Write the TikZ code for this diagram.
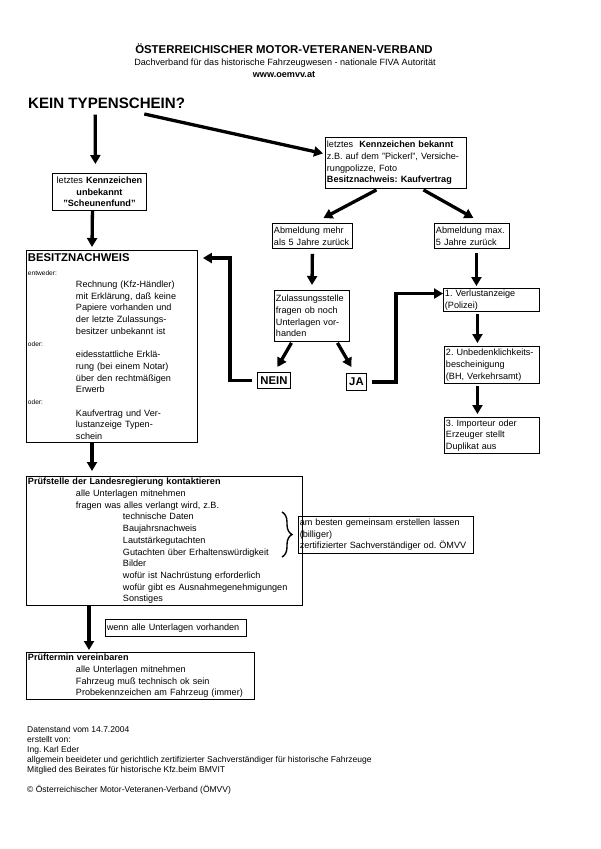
\documentclass[tikz,border=0pt]{standalone}
\usepackage{fontspec}
\setmainfont{Liberation Sans}
\usepackage{tikz}
\usetikzlibrary{positioning}
\usetikzlibrary{arrows.meta}
\usetikzlibrary{decorations.pathreplacing}
\frenchspacing
\newcommand{\bodyfont}{\fontsize{9.1}{11.7}\selectfont}
\newcommand{\bigbold}{\fontsize{11.3}{13}\selectfont\bfseries}
\newcommand{\smallfont}{\fontsize{6.6}{8}\selectfont}
\newcommand{\indA}{\hspace*{48pt}}
\newcommand{\indB}{\hspace*{95pt}}
\tikzset {
  x=1pt, y=-1pt,
  % text boxes
  box/.style = {draw, line width=0.9pt, anchor=north west, align=left,
    inner xsep=1.5pt, inner ysep=1.5pt, font=\bodyfont},
  % NEIN / JA
  answer/.style = {box, align=center, inner sep=1pt, font=\bigbold},
  % thin side notes
  note/.style = {box, line width=0.6pt},
  % fat arrows
  arr/.style = {-{Triangle[length=9pt,width=10pt]}, line width=3.3pt},
}

\begin{document}
\begin{tikzpicture}
  \useasboundingbox (0,0) rectangle (600,849);

  % header
  \node[font=\fontsize{11.4}{13}\selectfont\bfseries] (verband) at (284,49) {ÖSTERREICHISCHER MOTOR-VETERANEN-VERBAND};
  \node[font=\bodyfont] (dach) at (285,63) {Dachverband für das historische Fahrzeugwesen - nationale FIVA Autorität};
  \node[font=\bodyfont\bfseries] (web) at (284,75) {www.oemvv.at};

  \node[anchor=west, inner sep=0pt, font=\fontsize{15.1}{18}\selectfont\bfseries] (kein) at (28,103) {KEIN TYPENSCHEIN?};

  % left branch
  \node[box, align=center, text width=91pt, minimum height=37pt] (unk) at (52,173)
    {letztes \textbf{Kennzeichen}\\ \textbf{unbekannt}\\ \textbf{"Scheunenfund"}};

  \node[box, text width=168pt, minimum height=192pt] (besitz) at (26,250)
    {{\bigbold BESITZNACHWEIS}\\[3pt]
     {\smallfont entweder:}\\
     \indA Rechnung (Kfz-Händler)\\
     \indA mit Erklärung, daß keine\\
     \indA Papiere vorhanden und\\
     \indA der letzte Zulassungs-\\
     \indA besitzer unbekannt ist\\
     {\smallfont oder:}\\
     \indA eidesstattliche Erklä-\\
     \indA rung (bei einem Notar)\\
     \indA über den rechtmäßigen\\
     \indA Erwerb\\
     {\smallfont oder:}\\
     \indA Kaufvertrag und Ver-\\
     \indA lustanzeige Typen-\\
     \indA schein};

  % right branch
  \node[box, text width=138pt, minimum height=51pt] (ken) at (325,137)
    {letztes\ \ \textbf{Kennzeichen bekannt}\\ z.B. auf dem "Pickerl", Versiche-\\ rungpolizze, Foto\\ \textbf{Besitznachweis: Kaufvertrag}};

  \node[box, text width=77pt, minimum height=25pt] (abm1) at (272,223) {Abmeldung mehr\\ als 5 Jahre zurück};
  \node[box, text width=72pt, minimum height=25pt] (abm2) at (434,223) {Abmeldung max.\\ 5 Jahre zurück};

  \node[box, text width=72pt, minimum height=51pt] (zul) at (274,290)
    {Zulassungsstelle\\ fragen ob noch\\ Unterlagen vor-\\ handen};
  \node[answer, minimum width=33pt, minimum height=16pt] (nein) at (257,372) {NEIN};
  \node[answer, minimum width=20pt, minimum height=17pt] (ja) at (346,373) {JA};

  \node[box, text width=93pt, minimum height=23pt] (v1) at (443,288) {1. Verlustanzeige\\ (Polizei)};
  \node[box, text width=92pt, minimum height=37pt] (v2) at (444,346)
    {2. Unbedenklichkeits-\\ bescheinigung\\ (BH, Verkehrsamt)};
  \node[box, text width=92pt, minimum height=36pt] (v3) at (444,417)
    {3. Importeur oder\\ Erzeuger stellt\\ Duplikat aus};

  % lower part
  \node[box, text width=273pt, minimum height=129pt] (pruef) at (26,476)
    {\textbf{Prüfstelle der Landesregierung kontaktieren}\\
     \indA alle Unterlagen mitnehmen\\
     \indA fragen was alles verlangt wird, z.B.\\
     \indB technische Daten\\
     \indB Baujahrsnachweis\\
     \indB Lautstärkegutachten\\
     \indB Gutachten über Erhaltenswürdigkeit\\
     \indB Bilder\\
     \indB wofür ist Nachrüstung erforderlich\\
     \indB wofür gibt es Ausnahmegenehmigungen\\
     \indB Sonstiges};

  \node[note, text width=172pt, minimum height=37pt] (gemeinsam) at (298,516)
    {am besten gemeinsam erstellen lassen\\ (billiger)\\ zertifizierter Sachverständiger od. ÖMVV};
  \draw[decorate, decoration={brace, amplitude=10pt}, line width=1.4pt] (282,512) -- (282,557);

  \node[note, text width=138pt, minimum height=17pt] (wenn) at (105,619) {wenn alle Unterlagen vorhanden};

  \node[box, text width=225pt, minimum height=47pt] (termin) at (26,652)
    {\textbf{Prüftermin vereinbaren}\\
     \indA alle Unterlagen mitnehmen\\
     \indA Fahrzeug muß technisch ok sein\\
     \indA Probekennzeichen am Fahrzeug (immer)};

  % footer
  \node[anchor=north west, align=left, inner sep=0pt, font=\fontsize{8.5}{10}\selectfont] (stand) at (27,726)
    {Datenstand vom 14.7.2004\\
     erstellt von:\\
     Ing. Karl Eder\\
     allgemein beeideter und gerichtlich zertifizierter Sachverständiger für historische Fahrzeuge\\
     Mitglied des Beirates für historische Kfz.beim BMVIT\\[10pt]
     © Österreichischer Motor-Veteranen-Verband (ÖMVV)};

  % arrows
  \draw[arr, shorten >=9pt] ([shift={(-11.5,6)}]kein.south) -- ([xshift=-4pt]unk.north);
  \draw[arr] ([shift={(-41,11)}]kein.east) -- ([shift={(-2,-9.5)}]ken.west);
  \draw[arr] ([shift={(-19.5,1)}]ken.south) -- ([shift={(11,-5)}]abm1.north);
  \draw[arr] ([shift={(27.5,1)}]ken.south) -- ([shift={(1.5,-5)}]abm2.north);
  \draw[arr, shorten <=5pt, shorten >=5pt] (abm1.south) -- (zul.north);
  \draw[arr] ([shift={(-20.5,1)}]zul.south) -- ([shift={(3.5,-5)}]nein.north);
  \draw[arr] ([shift={(25.5,1)}]zul.south) -- ([shift={(-5,-6)}]ja.north);
  \draw[arr] ([xshift=5pt]ja.east) -- ++(24,0) |- ([yshift=6.5pt]v1.west);
  \draw[arr] ([xshift=-5pt]nein.west) -- ++(-22,0) |- ([shift={(5,8)}]besitz.north east);
  \draw[arr] ([shift={(4.5,4)}]abm2.south) -- ([shift={(-15,-2)}]v1.north);
  \draw[arr] ([shift={(-14,2)}]v1.south) -- ([shift={(-14.5,-3)}]v2.north);
  \draw[arr] ([shift={(-14.5,2)}]v2.south) -- ([shift={(-14.5,-3)}]v3.north);
  \draw[arr] ([xshift=-7pt]unk.south) -- ([shift={(66,-3)}]besitz.north west);
  \draw[arr] ([xshift=66pt]besitz.south west) -- ([shift={(66,-5)}]pruef.north west);
  \draw[arr] ([xshift=63pt]pruef.south west) -- ([shift={(63,-2)}]termin.north west);
\end{tikzpicture}
\end{document}
